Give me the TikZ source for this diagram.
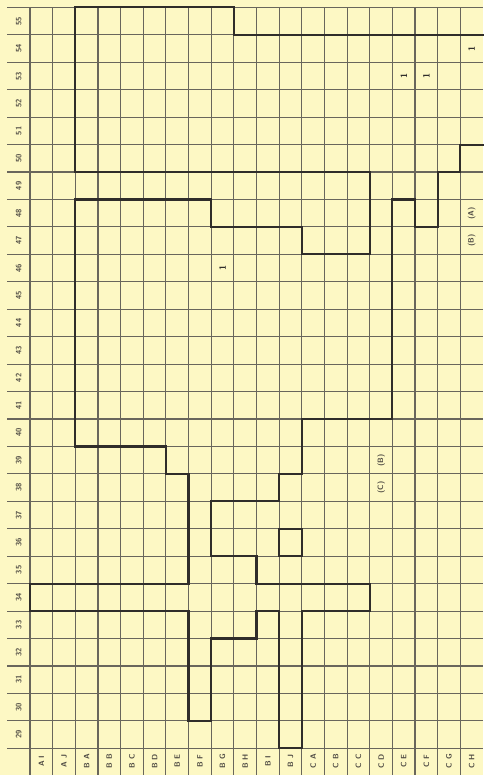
\documentclass[tikz,border=0pt]{standalone}
\usepackage{tikz}
\definecolor{paper}{RGB}{253,248,196}
\definecolor{rule}{RGB}{105,102,92}
\definecolor{ink}{RGB}{48,45,42}
\definecolor{print}{RGB}{80,76,68}
\tikzset{
  gridrule/.style={line width=0.8pt, draw=rule},
  border/.style={line width=1.5pt, draw=ink, line cap=rect, line join=miter},
  rowlabel/.style={font=\sffamily\bfseries\fontsize{5.5}{6}\selectfont, text=print, rotate=90, inner sep=0pt},
  collabel/.style={font=\sffamily\bfseries\fontsize{5.5}{6}\selectfont, text=print, rotate=90, inner sep=0pt},
  tally/.style={font=\sffamily\bfseries\fontsize{6.5}{7}\selectfont, text=ink, rotate=90, inner sep=0pt},
  tag/.style={font=\sffamily\bfseries\fontsize{5.5}{6}\selectfont, text=print, rotate=90, inner sep=0pt},
}

\begin{document}
\begin{tikzpicture}[x=0.56625cm, y=0.686cm]
\fill[paper] (-1.3245,-0.973) rectangle (20,27.27);
\useasboundingbox (-1.3245,-0.973) rectangle (20,27.27);
\draw[gridrule, step=1] (0,0) grid (19.99,27);
\draw[gridrule, xstep=5, ystep=1] (-1.015,0) grid (0,27);
\draw[gridrule, xstep=1, ystep=5] (0,-0.973) grid (19.99,0);
% row numbers
\node[rowlabel] (r29) at (-0.5,0.5) {29};
\node[rowlabel] (r30) at (-0.5,1.5) {30};
\node[rowlabel] (r31) at (-0.5,2.5) {31};
\node[rowlabel] (r32) at (-0.5,3.5) {32};
\node[rowlabel] (r33) at (-0.5,4.5) {33};
\node[rowlabel] (r34) at (-0.5,5.5) {34};
\node[rowlabel] (r35) at (-0.5,6.5) {35};
\node[rowlabel] (r36) at (-0.5,7.5) {36};
\node[rowlabel] (r37) at (-0.5,8.5) {37};
\node[rowlabel] (r38) at (-0.5,9.5) {38};
\node[rowlabel] (r39) at (-0.5,10.5) {39};
\node[rowlabel] (r40) at (-0.5,11.5) {40};
\node[rowlabel] (r41) at (-0.5,12.5) {41};
\node[rowlabel] (r42) at (-0.5,13.5) {42};
\node[rowlabel] (r43) at (-0.5,14.5) {43};
\node[rowlabel] (r44) at (-0.5,15.5) {44};
\node[rowlabel] (r45) at (-0.5,16.5) {45};
\node[rowlabel] (r46) at (-0.5,17.5) {46};
\node[rowlabel] (r47) at (-0.5,18.5) {47};
\node[rowlabel] (r48) at (-0.5,19.5) {48};
\node[rowlabel] (r49) at (-0.5,20.5) {49};
\node[rowlabel] (r50) at (-0.5,21.5) {50};
\node[rowlabel] (r51) at (-0.5,22.5) {51};
\node[rowlabel] (r52) at (-0.5,23.5) {52};
\node[rowlabel] (r53) at (-0.5,24.5) {53};
\node[rowlabel] (r54) at (-0.5,25.5) {54};
\node[rowlabel] (r55) at (-0.5,26.5) {55};
% column letters
\node[collabel] (cAI) at (0.5,-0.47) {A~I};
\node[collabel] (cAJ) at (1.5,-0.47) {A~J};
\node[collabel] (cBA) at (2.5,-0.47) {B~A};
\node[collabel] (cBB) at (3.5,-0.47) {B~B};
\node[collabel] (cBC) at (4.5,-0.47) {B~C};
\node[collabel] (cBD) at (5.5,-0.47) {B~D};
\node[collabel] (cBE) at (6.5,-0.47) {B~E};
\node[collabel] (cBF) at (7.5,-0.47) {B~F};
\node[collabel] (cBG) at (8.5,-0.47) {B~G};
\node[collabel] (cBH) at (9.5,-0.47) {B~H};
\node[collabel] (cBI) at (10.5,-0.47) {B~I};
\node[collabel] (cBJ) at (11.5,-0.47) {B~J};
\node[collabel] (cCA) at (12.5,-0.47) {C~A};
\node[collabel] (cCB) at (13.5,-0.47) {C~B};
\node[collabel] (cCC) at (14.5,-0.47) {C~C};
\node[collabel] (cCD) at (15.5,-0.47) {C~D};
\node[collabel] (cCE) at (16.5,-0.47) {C~E};
\node[collabel] (cCF) at (17.5,-0.47) {C~F};
\node[collabel] (cCG) at (18.5,-0.47) {C~G};
\node[collabel] (cCH) at (19.5,-0.47) {C~H};
% boundaries
\draw[border] (2,21) -- (2,27) -- (9,27) -- (9,26) -- (20,26);
\draw[border] (2,21) -- (15,21) -- (15,18) -- (12,18) -- (12,19) -- (8,19) -- (8,20) -- (2,20);
\draw[border] (2,20) -- (2,11) -- (6,11) -- (6,10) -- (7,10) -- (7,6) -- (0,6) -- (0,5)
  -- (7,5) -- (7,1) -- (8,1) -- (8,4) -- (10,4) -- (10,5) -- (11,5) -- (11,0) -- (12,0)
  -- (12,5) -- (15,5) -- (15,6) -- (10,6) -- (10,7) -- (8,7) -- (8,9) -- (11,9) -- (11,10)
  -- (12,10) -- (12,12) -- (16,12) -- (16,20) -- (17,20) -- (17,19) -- (18,19) -- (18,21)
  -- (19,21) -- (19,22) -- (20,22);
\draw[border] (11,7) rectangle (12,8);
% entries
\node[tally] (oneBG) at (8.5,17.5) {1};
\node[tally] (oneCE) at (16.5,24.5) {1};
\node[tally] (oneCF) at (17.5,24.5) {1};
\node[tally] (oneCH) at (19.5,25.5) {1};
\node[tag] (tagA) at (19.5,19.5) {(A)};
\node[tag] (tagBtop) at (19.5,18.5) {(B)};
\node[tag] (tagBlow) at (15.5,10.5) {(B)};
\node[tag] (tagC) at (15.5,9.5) {(C)};
\end{tikzpicture}
\end{document}
